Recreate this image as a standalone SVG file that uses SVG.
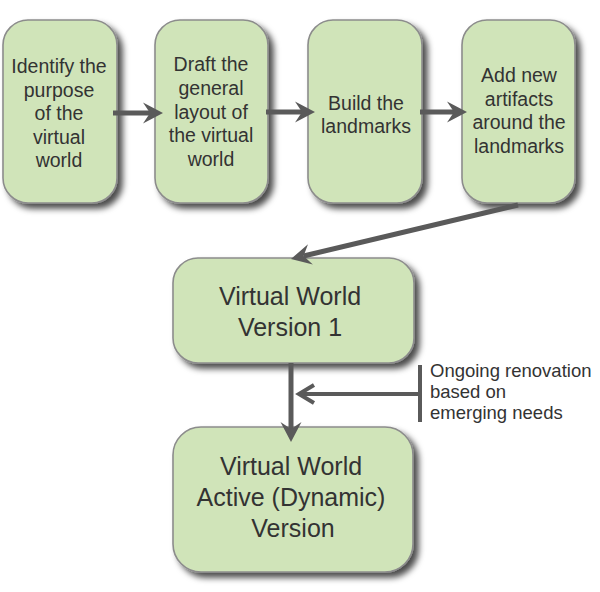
<svg xmlns="http://www.w3.org/2000/svg" width="600" height="592" viewBox="0 0 600 592">
  <style>
    .box { fill: #d0e4b9; stroke: #8c8c8c; stroke-width: 1.6; filter: url(#shadow); }
    .t { font-family: "Liberation Sans", Arial, sans-serif; fill: #333333; text-anchor: middle; }
    .s { font-size: 19.5px; }
    .b { font-size: 25px; }
    .note { font-family: "Liberation Sans", Arial, sans-serif; fill: #333333; font-size: 18.5px; }
    .conn { stroke: #5a5a5a; stroke-width: 5; fill: none; }
    .thin { stroke: #5a5a5a; stroke-width: 4; fill: none; }
  </style>
  <defs>
    <filter id="shadow" x="-20%" y="-20%" width="150%" height="150%">
      <feDropShadow dx="5" dy="5" stdDeviation="3" flood-color="#000000" flood-opacity="0.7"/>
    </filter>
    <marker id="head" markerUnits="userSpaceOnUse" viewBox="-8 -11 22 22" markerWidth="22" markerHeight="22" refX="0" refY="0" orient="auto" overflow="visible">
      <path d="M 13 0 L -7 -10.5 L 0 0 L -7 10.5 Z" fill="#5a5a5a"/>
    </marker>
    <marker id="open" markerUnits="userSpaceOnUse" viewBox="-18 -12 22 24" markerWidth="22" markerHeight="24" refX="0" refY="0" orient="auto" overflow="visible">
      <path d="M -15 -9 L 0 0 L -15 9" fill="none" stroke="#5a5a5a" stroke-width="4"/>
    </marker>
  </defs>

  <g id="node-identify">
    <rect class="box" x="3" y="20" width="114" height="183" rx="25" ry="25"/>
    <text class="t s" x="59" y="73">Identify the</text>
    <text class="t s" x="59" y="96.5">purpose</text>
    <text class="t s" x="59" y="120">of the</text>
    <text class="t s" x="59" y="143.5">virtual</text>
    <text class="t s" x="59" y="167">world</text>
  </g>

  <g id="node-draft">
    <rect class="box" x="155" y="20" width="113" height="183" rx="25" ry="25"/>
    <text class="t s" x="211" y="71">Draft the</text>
    <text class="t s" x="211" y="94.75">general</text>
    <text class="t s" x="211" y="118.5">layout of</text>
    <text class="t s" x="211" y="142.25">the virtual</text>
    <text class="t s" x="211" y="166">world</text>
  </g>

  <g id="node-build">
    <rect class="box" x="308" y="20" width="114" height="183" rx="25" ry="25"/>
    <text class="t s" x="366" y="110">Build the</text>
    <text class="t s" x="366" y="133">landmarks</text>
  </g>

  <g id="node-add">
    <rect class="box" x="462" y="20" width="113" height="183" rx="25" ry="25"/>
    <text class="t s" x="519" y="82">Add new</text>
    <text class="t s" x="519" y="105.5">artifacts</text>
    <text class="t s" x="519" y="129">around the</text>
    <text class="t s" x="519" y="152.5">landmarks</text>
  </g>

  <g id="node-v1">
    <rect class="box" x="173" y="258" width="241" height="105" rx="25" ry="25"/>
    <text class="t b" x="290" y="305">Virtual World</text>
    <text class="t b" x="290" y="336">Version 1</text>
  </g>

  <g id="node-active">
    <rect class="box" x="173" y="427" width="240" height="145" rx="28" ry="28"/>
    <text class="t b" x="291" y="475">Virtual World</text>
    <text class="t b" x="291" y="506">Active (Dynamic)</text>
    <text class="t b" x="293" y="537">Version</text>
  </g>

  <g id="connectors">
    <line class="conn" x1="113" y1="113" x2="150" y2="113" marker-end="url(#head)"/>
    <line class="conn" x1="266" y1="112" x2="302" y2="112" marker-end="url(#head)"/>
    <line class="conn" x1="420" y1="112" x2="454" y2="112" marker-end="url(#head)"/>
    <line class="conn" x1="518" y1="205" x2="303.6" y2="256" marker-end="url(#head)"/>
    <line class="conn" x1="291" y1="363" x2="291" y2="429" marker-end="url(#head)"/>
    <line class="thin" x1="420" y1="394" x2="299" y2="394" marker-end="url(#open)"/>
    <line class="thin" x1="420" y1="365" x2="420" y2="422"/>
  </g>

  <g id="note">
    <text class="note" x="430" y="377">Ongoing renovation</text>
    <text class="note" x="430" y="398">based on</text>
    <text class="note" x="430" y="419">emerging needs</text>
  </g>
</svg>
